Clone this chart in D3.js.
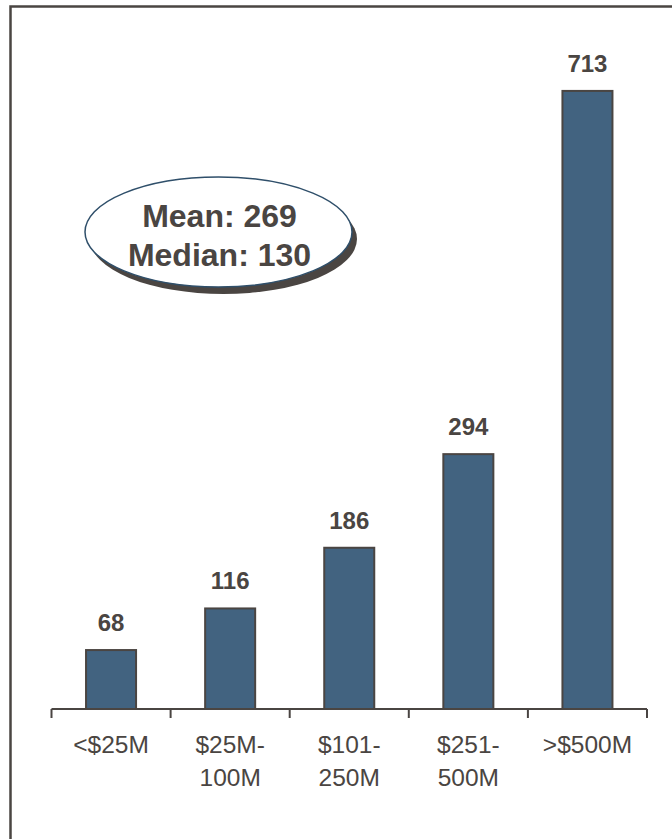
<!DOCTYPE html>
<html>
<head>
<meta charset="utf-8">
<script src="https://cdn.jsdelivr.net/npm/d3@7"></script>
<style>
  html, body { margin: 0; padding: 0; background: #fff; }
  svg { display: block; }
  text { font-family: "Liberation Sans", Arial, sans-serif; }
</style>
</head>
<body>
<svg id="chart" width="672" height="839"></svg>
<script>
// Revenue size bands (label lines) and the value shown for each
const categories = ["<$25M", "$25M-100M", "$101-250M", "$251-500M", ">$500M"];
const categoryLines = [["<$25M"], ["$25M-", "100M"], ["$101-", "250M"], ["$251-", "500M"], [">$500M"]];
const values = [68, 116, 186, 294, 713];
const summaryLines = ["Mean: 269", "Median: 130"];

const ink = "#4a4542";
const barFill = "#426380";

const svg = d3.select("#chart");

// Frame running off the right and bottom edges
svg.append("rect")
  .attr("x", 10.5).attr("y", 6.5)
  .attr("width", 800).attr("height", 1000)
  .attr("fill", "none").attr("stroke", ink).attr("stroke-width", 2.5);

const x = d3.scaleBand()
  .domain(categories)
  .range([51.5, 647])
  .paddingInner(0.58)
  .paddingOuter(0.29);

const y = d3.scaleLinear().domain([0, 800]).range([709, 15.5]);

// Bars
svg.append("g").selectAll("rect")
  .data(values)
  .join("rect")
  .attr("x", (d, i) => x(categories[i]))
  .attr("y", d => y(d))
  .attr("width", x.bandwidth())
  .attr("height", d => y(0) - y(d))
  .attr("fill", barFill)
  .attr("stroke", ink)
  .attr("stroke-width", 2);

// Value labels above bars
svg.append("g").selectAll("text")
  .data(values)
  .join("text")
  .attr("x", (d, i) => x(categories[i]) + x.bandwidth() / 2)
  .attr("y", d => y(d) - 19)
  .attr("text-anchor", "middle")
  .attr("font-size", 24)
  .attr("font-weight", "bold")
  .attr("fill", ink)
  .text(d => d);

// Category axis: baseline with ticks between bands
const step = x.step();
const axisLeft = x(categories[0]) - x.paddingOuter() * step;
const tickXs = categories.map((c, i) => axisLeft + i * step).concat([axisLeft + categories.length * step]);

const axis = svg.append("g");
axis.append("line")
  .attr("x1", tickXs[0]).attr("x2", tickXs[tickXs.length - 1])
  .attr("y1", y(0)).attr("y2", y(0))
  .attr("stroke", ink).attr("stroke-width", 2);
axis.selectAll("line.tick")
  .data(tickXs)
  .join("line")
  .attr("class", "tick")
  .attr("x1", d => d).attr("x2", d => d)
  .attr("y1", y(0)).attr("y2", y(0) + 9)
  .attr("stroke", ink).attr("stroke-width", 2);

const labels = axis.selectAll("text.cat")
  .data(categoryLines)
  .join("text")
  .attr("class", "cat")
  .attr("x", (d, i) => x(categories[i]) + x.bandwidth() / 2)
  .attr("y", 753)
  .attr("text-anchor", "middle")
  .attr("font-size", 24.5)
  .attr("fill", ink);
labels.selectAll("tspan")
  .data((d, i) => d.map(t => ({ t, cx: x(categories[i]) + x.bandwidth() / 2 })))
  .join("tspan")
  .attr("x", d => d.cx)
  .attr("dy", (d, j) => j === 0 ? 0 : 33)
  .text(d => d.t);

// Summary callout: ellipse with offset shadow
const callout = svg.append("g");
const cx = 218.5, cy = 232, rx = 133.5, ry = 55;
callout.append("ellipse")
  .attr("cx", cx + 5).attr("cy", cy + 7)
  .attr("rx", rx).attr("ry", ry)
  .attr("fill", ink);
callout.append("ellipse")
  .attr("cx", cx).attr("cy", cy)
  .attr("rx", rx).attr("ry", ry)
  .attr("fill", "#fff")
  .attr("stroke", "#2f4f6a").attr("stroke-width", 1.5);
callout.selectAll("text")
  .data(summaryLines)
  .join("text")
  .attr("x", cx + 1)
  .attr("y", (d, i) => 227 + i * 39)
  .attr("text-anchor", "middle")
  .attr("font-size", 32)
  .attr("font-weight", "bold")
  .attr("fill", ink)
  .text(d => d);
</script>
</body>
</html>
